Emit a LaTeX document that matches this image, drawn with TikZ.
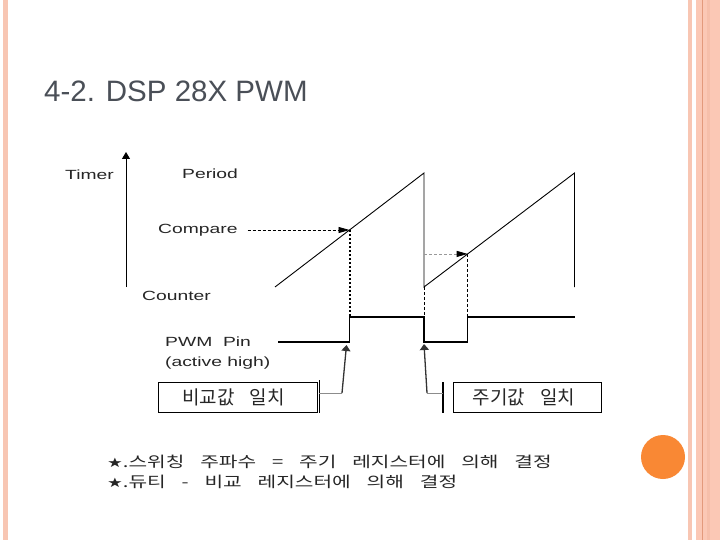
\documentclass[tikz,border=0pt]{standalone}
\usepackage{fontspec}
\setmainfont{Liberation Sans}
\newfontfamily\titlefont{Liberation Sans}
\newfontfamily\labfont[FakeStretch=1.45]{Liberation Sans}
\newfontfamily\kboxfont[WordSpace=6]{Noto Sans CJK KR}
\newfontfamily\knotefont[WordSpace=3.5]{Noto Sans CJK KR}
\newfontfamily\starfont{DejaVu Sans}
\usetikzlibrary{arrows.meta,calc}
\definecolor{bordl}{HTML}{F8C6B3}
\definecolor{bordr}{HTML}{FBC8B5}
\definecolor{bordd}{HTML}{E39A7C}
\definecolor{dotorange}{HTML}{F98834}
\definecolor{titlegray}{HTML}{4A4F57}
\newcommand{\notestar}{{\starfont\fontsize{13}{15}\selectfont ★}}
\tikzset{
  lbl/.style={font=\labfont\fontsize{13.3}{15}\selectfont, text=black!85, inner sep=0pt, anchor=base west},
  kbox/.style={draw, line width=0.9pt, minimum height=30pt, inner sep=0pt, font=\kboxfont\fontsize{19}{21}\selectfont, text=black!85},
  knote/.style={font=\knotefont\fontsize{15}{17}\selectfont, text=black!85, inner sep=0pt, anchor=west},
  wave/.style={line width=0.9pt},
  pwm/.style={line width=1.2pt},
  dashline/.style={line width=0.8pt, dash pattern=on 3pt off 2pt},
  dotline/.style={line width=2pt, dash pattern=on 2.2pt off 1.8pt},
  uptip/.style={-{Triangle[length=6pt,width=9pt]}},
  fwdtip/.style={-{Triangle[length=11pt,width=6pt]}}
}
\begin{document}
\begin{tikzpicture}[x=1pt,y=-1pt]
\useasboundingbox (0,0) rectangle (720,540);
\fill[white] (0,0) rectangle (720,540);
% slide decoration
\fill[bordl] (3,0) rectangle (8,540);
\fill[bordl] (688,0) rectangle (692,540);
\fill[bordr] (696,0) rectangle (720,540);
\fill[bordr!80!bordd] (707,0) rectangle (710,540);
\draw[bordd, line width=0.9pt] (702,0) -- (702,540);
\fill[dotorange] (663,457) circle[radius=22pt];
% title
\node[anchor=base west, inner sep=0pt, text=titlegray, font=\titlefont\fontsize{29.5}{32}\selectfont] (title) at (44,101.5) {4-2. DSP 28X PWM};
% axis
\coordinate (ax0) at (126,287);
\coordinate (ax1) at (126,152);
\draw[line width=1pt, -{Triangle[length=7pt,width=8pt]}] (ax0) -- (ax1);
% labels
\node[lbl] (timer) at (65,179.5) {Timer};
\node[lbl] (period) at (182,178.5) {Period};
\node[lbl] (cmp) at (158,233.5) {Compare};
\node[lbl] (counter) at (142,300) {Counter};
\node[lbl] (pwmpin) at (165,346.7) {PWM\ \ Pin};
\node[lbl] (acth) at (165,366.7) {(active high)};
% sawtooth
\coordinate (s0) at (275,287);
\coordinate (p1) at (424,173);
\coordinate (s1) at (424,287);
\coordinate (p2) at (574.5,173);
\coordinate (e2) at (574.5,287);
\draw[wave] (s0) -- (p1) -- (s1) -- (p2) -- (e2);
\coordinate (c1) at ($(s0)!0.5!(p1)$);
\coordinate (c2) at ($(s1)!0.29!(p2)$);
% PWM waveform
\coordinate (w0) at (278,342);
\coordinate (w1) at (c1 |- w0);
\coordinate (w2) at ($(c1)+(0,87)$);
\coordinate (w3) at (p1 |- w2);
\coordinate (w4) at (p1 |- w0);
\coordinate (w5) at (c2 |- w0);
\coordinate (w6) at (c2 |- w2);
\coordinate (w7) at (p2 |- w2);
\draw[pwm] (w0) -- (w1) -- (w2) -- (w3) -- (w4) -- (w5) -- (w6) -- (w7);
\draw[line width=2.2pt] (w3) -- (w4);
% compare arrows
\draw[dashline, fwdtip, shorten <=10pt] (cmp.east |- c1) -- (c1);
\draw[dashline, black!40, -{Triangle[length=11pt,width=6pt,fill=black,color=black]}] (s1 |- c2) -- (c2);
% projections
\draw[dotline] (c1) -- (w2);
\draw[dashline] (s1) -- (w3);
\draw[dashline] (c2) -- (w6);
% event boxes
\node[kbox, minimum width=159pt] (box1) at (237.5,397) {비교값 일치\hspace*{8pt}};
\node[kbox, minimum width=148pt] (box2) at (527,397) {주기값 일치\hspace*{6pt}};
\coordinate (b1t) at (319,380);
\coordinate (b1b) at (319,413);
\coordinate (b1m) at (319,393);
\draw[line width=0.9pt] (b1t) -- (b1b);
\coordinate (b2t) at (443,382);
\coordinate (b2b) at (443,413);
\coordinate (b2m) at (443,393);
\draw[line width=2pt] (b2t) -- (b2b);
\coordinate (k1) at (342,393);
\coordinate (k2) at (427,393);
\draw[black!45, line width=0.9pt] (b1m) -- (k1);
\draw[black!80, line width=1.3pt, uptip] (k1) -- ($(w1)+(-3,3)$);
\draw[black!45, line width=0.9pt] (b2m) -- (k2);
\draw[black!80, line width=1.3pt, uptip] (k2) -- ($(w4)+(0,2)$);
% notes
\node[knote] (note1) at (107,462) {\scalebox{1.35}[1]{\notestar.스위칭 주파수 = 주기 레지스터에 의해 결정}};
\node[knote] (note2) at (107,482) {\scalebox{1.35}[1]{\notestar.듀티 - 비교 레지스터에 의해 결정}};
\end{tikzpicture}
\end{document}
